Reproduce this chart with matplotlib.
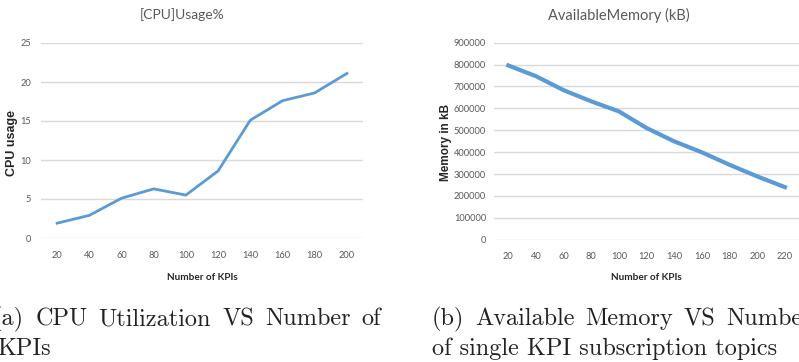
import matplotlib
matplotlib.use("Agg")
import matplotlib.pyplot as plt

# data
kpis_cpu = [20, 40, 60, 80, 100, 120, 140, 160, 180, 200]
cpu_usage = [1.9, 2.9, 5.1, 6.3, 5.5, 8.6, 15.1, 17.6, 18.6, 21.1]

kpis_mem = [20, 40, 60, 80, 100, 120, 140, 160, 180, 200, 220]
avail_mem = [796000, 747000, 683000, 632000, 586000, 510000, 449000, 399000, 342000, 289000, 240000]

cpu_yticks = [0, 5, 10, 15, 20, 25]
mem_yticks = [0, 100000, 200000, 300000, 400000, 500000, 600000, 700000, 800000, 900000]

blue = "#5b9bd5"
grid_c = "#d9d9d9"
tick_c = "#595959"
lab_c = "#262626"
font = ["Lato", "DejaVu Sans"]

fig = plt.figure(figsize=(7.99, 3.62), dpi=100)
W, H = 799.0, 362.0


def style(ax, ypad, xpad):
    for s in ax.spines.values():
        s.set_visible(False)
    ax.tick_params(length=0, colors=tick_c, labelsize=6.7)
    ax.tick_params(axis="y", pad=ypad)
    ax.tick_params(axis="x", pad=xpad)
    ax.yaxis.grid(True, color=grid_c, linewidth=1)
    ax.set_axisbelow(True)
    for lab in ax.get_xticklabels() + ax.get_yticklabels():
        lab.set_family(font)


# (a) CPU
ax1 = fig.add_axes([41 / W, (H - 238) / H, 322 / W, 195 / H])
ax1.plot(kpis_cpu, cpu_usage, color=blue, linewidth=2, solid_joinstyle="round")
ax1.set_xlim(10, 210)
ax1.set_ylim(0, 25)
ax1.set_xticks(kpis_cpu)
ax1.set_yticks(cpu_yticks)
style(ax1, 7, 9)
fig.text(182 / W, 1 - 15 / H, "[CPU]Usage%", ha="center", va="center",
         fontsize=10, color=tick_c, family=font)
fig.text(202 / W, 1 - 277 / H, "Number of KPIs", ha="center", va="center",
         fontsize=7.2, fontweight="bold", color=lab_c, family=font)
fig.text(12 / W, 1 - 143 / H, "CPU usage", ha="center", va="center", rotation=90,
         fontsize=9, fontweight="bold", color=lab_c, family=["Liberation Sans", "DejaVu Sans"])

# (b) memory
ax2 = fig.add_axes([494.5 / W, (H - 239.7) / H, 304.3 / W, 197 / H])
ax2.plot(kpis_mem, avail_mem, color=blue, linewidth=3, solid_joinstyle="round")
ax2.set_xlim(10, 230)
ax2.set_ylim(0, 900000)
ax2.set_xticks(kpis_mem)
ax2.set_yticks(mem_yticks)
style(ax2, 6, 9)
fig.text(619 / W, 1 - 15 / H, "AvailableMemory (kB)", ha="center", va="center",
         fontsize=10.5, color=tick_c, family=font)
fig.text(646.5 / W, 1 - 278 / H, "Number of KPIs", ha="center", va="center",
         fontsize=7.2, fontweight="bold", color=lab_c, family=font)
fig.text(446 / W, 1 - 142 / H, "Memory in kB", ha="center", va="center", rotation=90,
         fontsize=8.5, fontweight="bold", color=lab_c, family=["Liberation Sans", "DejaVu Sans"])

# captions (first lines justified like the LaTeX subcaptions)
cap = dict(fontsize=17.5, family="cmr10", color="#222222", va="baseline", ha="left")
renderer = fig.canvas.get_renderer()


def justified(x0, y, line, width):
    words = line.split()
    txts = [fig.text(0, 1 - y / H, w, **cap) for w in words]
    widths = [t.get_window_extent(renderer).width for t in txts]
    gap = (width - sum(widths)) / (len(words) - 1)
    x = x0
    for t, w in zip(txts, widths):
        t.set_x(x / W)
        x += w + gap


justified(-7, 325, "(a) CPU Utilization VS Number of", 388)
fig.text(-3 / W, 1 - 355 / H, "KPIs", **cap)
justified(432, 325, "(b) Available Memory VS Number", 380)
fig.text(432 / W, 1 - 355 / H, "of single KPI subscription topics", **cap)

fig.savefig("out.png", dpi=100)
